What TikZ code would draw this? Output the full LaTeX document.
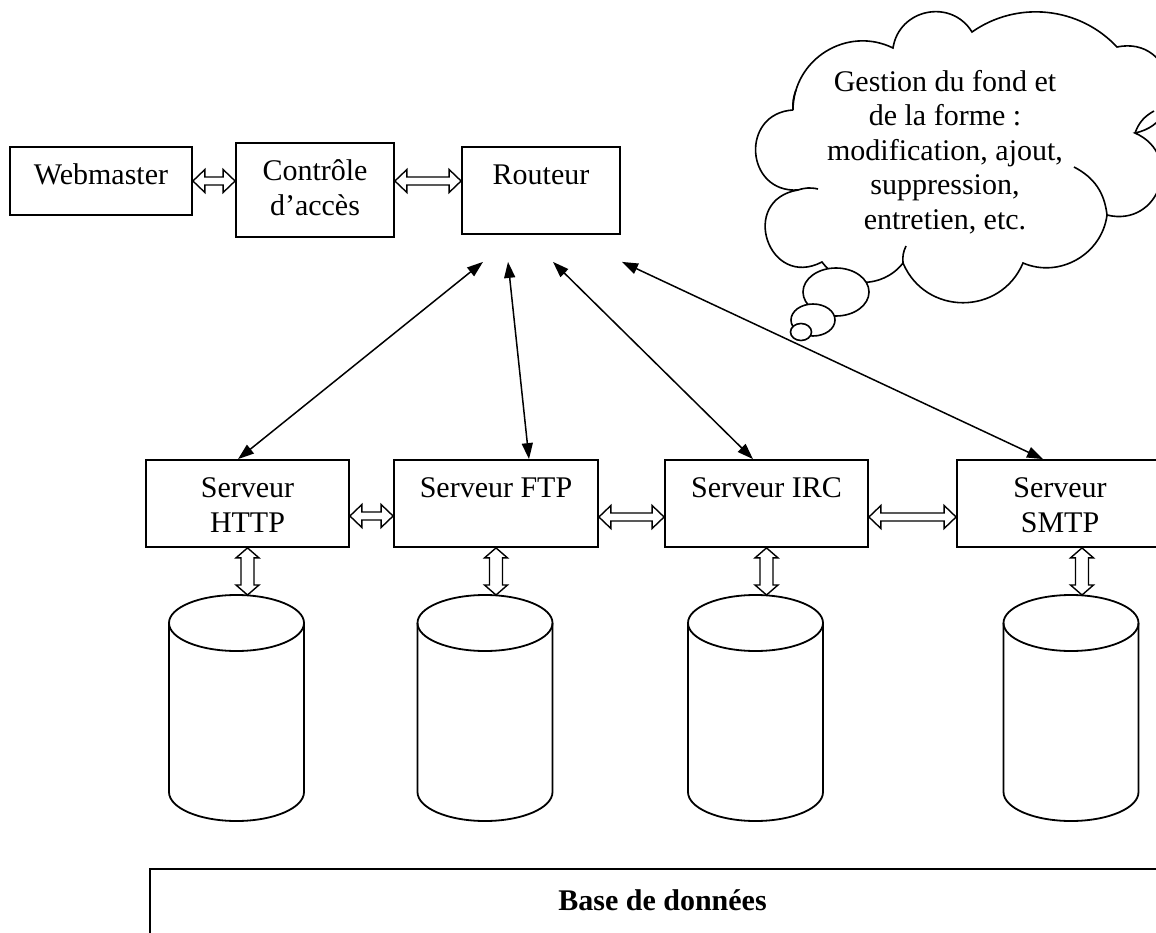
\documentclass[tikz,border=0pt]{standalone}
\usepackage{fontspec}
\setmainfont{Liberation Serif}
\usetikzlibrary{arrows.meta,calc}

\tikzset{
  box/.style={draw, line width=1.8pt, fill=white, inner sep=0pt},
  boxtext/.style={anchor=north, inner sep=0pt, align=center, yshift=-14.4pt},
  link/.style={line width=1.5pt, {Triangle[length=16pt,width=11pt]}-{Triangle[length=16pt,width=11pt]}},
  blockarrow/.style={draw, line width=1.4pt, fill=white, line join=miter},
  cylline/.style={line width=1.8pt},
  cloudline/.style={draw, line width=1.6pt, fill=white},
  lobe/.style 2 args={bend left=#1, looseness=#2},
  dbcyl/.pic={
    \draw[cylline] (-67.5,0) -- (-67.5,169)
      .. controls (-67.5,185) and (-37.3,198) .. (0,198)
      .. controls (37.3,198) and (67.5,185) .. (67.5,169) -- (67.5,0);
    \draw[cylline] (0,0) ellipse [x radius=67.5, y radius=28];
    \coordinate (-top) at (0,-28);
  }
}

% outlined two-headed block arrow, horizontal (left point, right point)
\newcommand\hblock[2]{\path[blockarrow] let \p1=(#1), \p2=(#2) in
  (\x1,\y1) -- (\x1+12pt,\y1+11.5pt) -- (\x1+12pt,\y1+4pt) -- (\x2-12pt,\y1+4pt)
  -- (\x2-12pt,\y1+11.5pt) -- (\x2,\y1) -- (\x2-12pt,\y1-11.5pt) -- (\x2-12pt,\y1-4pt)
  -- (\x1+12pt,\y1-4pt) -- (\x1+12pt,\y1-11.5pt) -- cycle;}
% outlined two-headed block arrow, vertical (upper point, lower point)
\newcommand\vblock[2]{\path[blockarrow] let \p1=(#1), \p2=(#2) in
  (\x1,\y1) -- (\x1+11.5pt,\y1-10pt) -- (\x1+6.5pt,\y1-10pt) -- (\x1+6.5pt,\y2+10pt)
  -- (\x1+11.5pt,\y2+10pt) -- (\x1,\y2) -- (\x1-11.5pt,\y2+10pt) -- (\x1-6.5pt,\y2+10pt)
  -- (\x1-6.5pt,\y1-10pt) -- (\x1-11.5pt,\y1-10pt) -- cycle;}

\begin{document}
\begin{tikzpicture}[x=1pt, y=-1pt, font=\fontsize{30}{34.5}\selectfont]
\useasboundingbox (0,0) rectangle (1156,933);
\fill[white] (0,0) rectangle (1156,933);
\clip (0,0) rectangle (1156,933);

% top row
\node[box, minimum width=182, minimum height=68] (web) at (101,181) {};
\node[box, minimum width=158, minimum height=94] (ctrl) at (315,190) {};
\node[box, minimum width=158, minimum height=87] (rout) at (541,190.5) {};
\node[boxtext] (webT) at (web.north) {\strut Webmaster};
\node[boxtext] (ctrlT) at (ctrl.north) {\strut Contrôle\\d’accès};
\node[boxtext] (routT) at (rout.north) {\strut Routeur};

\hblock{web.east}{ctrl.west |- web.east}
\hblock{ctrl.east |- web.east}{rout.west |- web.east}

% thought cloud
\path[cloudline] (793,110)
  to[lobe={58}{1.11}] (893,48)
  to[lobe={70}{1.26}] (972,32)
  to[lobe={41}{0.97}] (1117,47)
  to[lobe={90}{1.7}] (1135,133)
  to[lobe={85}{1.6}] (1107,215)
  to[lobe={53}{1.05}] (1023,263)
  to[lobe={67}{1.23}] (903,263)
  to[lobe={53}{1.05}] (822,262)
  to[lobe={99}{2.04}] (798,190)
  to[lobe={90}{1.7}] (793,110);
% inner ends of the puffs
\draw[line width=1.6pt] (1107,215) to[bend right=28] (1074,167);
\draw[line width=1.6pt] (1135,133) to[bend left=20] (1154,111);
\draw[line width=1.6pt] (798,190) to[bend left=15] (818,189);
\draw[line width=1.6pt] (793,110) to[bend left=12] (796,90);
\draw[line width=1.6pt] (903,263) to[bend left=15] (906,246);
\node[align=center] (thought) at (945,152)
  {Gestion du fond et\\de la forme :\\modification, ajout,\\suppression,\\entretien, etc.};
\draw[cloudline] (836,292) ellipse [x radius=33, y radius=24];
\draw[cloudline] (813,320) ellipse [x radius=22, y radius=16];
\draw[cloudline] (801,332) ellipse [x radius=10.5, y radius=8.5];

% server row
\node[box, minimum width=203, minimum height=87] (http) at (247.5,503.5) {};
\node[box, minimum width=204, minimum height=87] (ftp) at (496,503.5) {};
\node[box, minimum width=203, minimum height=87] (irc) at (766.5,503.5) {};
\node[box, minimum width=206, minimum height=87] (smtp) at (1060,503.5) {};
\node[boxtext] (httpT) at (http.north) {\strut Serveur\\HTTP};
\node[boxtext] (ftpT) at (ftp.north) {\strut Serveur FTP};
\node[boxtext] (ircT) at (irc.north) {\strut Serveur IRC};
\node[boxtext] (smtpT) at (smtp.north) {\strut Serveur\\SMTP};

\hblock{$(http.east)+(0,12.5)$}{ftp.west}
\hblock{$(ftp.east)+(0,13.5)$}{irc.west}
\hblock{$(irc.east)+(0,13.5)$}{smtp.west}

% router links
\coordinate (rA) at ($(rout.south)+(-58,27)$);
\coordinate (rB) at ($(rout.south)+(-33,27)$);
\coordinate (rC) at ($(rout.south)+(12,27)$);
\coordinate (rD) at ($(rout.south)+(81,27)$);
\coordinate (sA) at ($(http.north)+(-9.5,0)$);
\coordinate (sB) at ($(ftp.north)+(33,0)$);
\coordinate (sC) at ($(irc.north)+(-13.5,0)$);
\coordinate (sD) at ($(smtp.north)+(-17,0)$);
\draw[link] (rA) -- (sA);
\draw[link] (rB) -- (sB);
\draw[link] (rC) -- (sC);
\draw[link] (rD) -- (sD);

% storage cylinders
\pic (dbA) at (236.5,623) {dbcyl};
\pic (dbB) at (485,623) {dbcyl};
\pic (dbC) at (755.5,623) {dbcyl};
\pic (dbD) at (1071,623) {dbcyl};

\vblock{http.south}{dbA-top}
\vblock{ftp.south}{dbB-top}
\vblock{irc.south}{dbC-top}
\vblock{$(smtp.south)+(22,0)$}{dbD-top}

% database panel
\node[box, anchor=north west, minimum width=1040, minimum height=120] (base) at (149,868) {};
\node[font=\fontsize{30}{34.5}\selectfont\bfseries] (basetxt) at (662.5,900) {Base de données};
\end{tikzpicture}
\end{document}
